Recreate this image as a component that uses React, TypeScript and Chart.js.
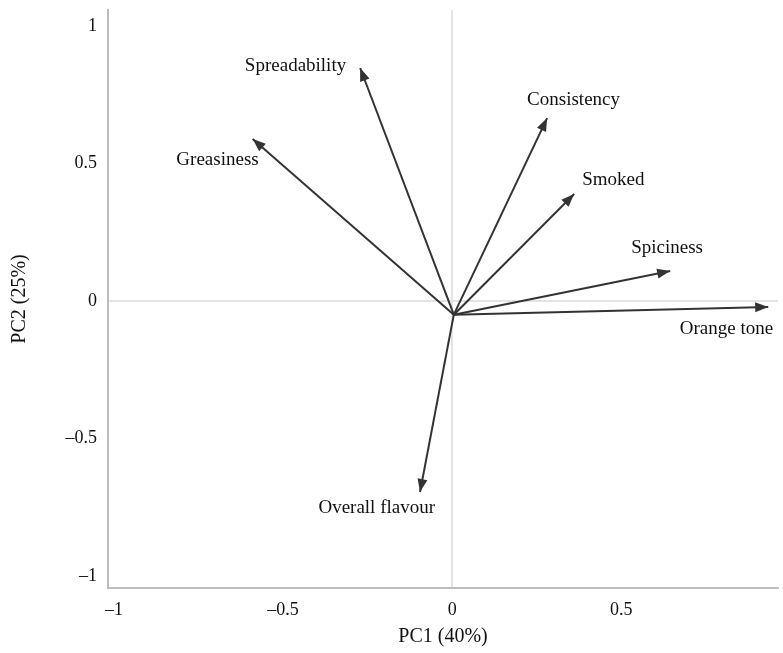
import React, { useEffect, useRef } from "react";
import { Chart, registerables } from "chart.js";

Chart.register(...registerables);

// ---- data ----
const variables = [
  "Spreadability",
  "Greasiness",
  "Consistency",
  "Smoked",
  "Spiciness",
  "Orange tone",
  "Overall flavour",
];
const pc1Loadings = [-0.272, -0.59, 0.281, 0.361, 0.645, 0.935, -0.095];
const pc2Loadings = [0.847, 0.589, 0.665, 0.389, 0.109, -0.022, -0.695];
const originPoint = { x: 0.005, y: -0.05 };
const xTicks = [-1, -0.5, 0, 0.5];
const yTicks = [-1, -0.5, 0, 0.5, 1];
const xTitle = "PC1 (40%)";
const yTitle = "PC2 (25%)";

// ---- label placement (pixel offsets from arrow tip) ----
const labelStyle: { dx: number; dy: number; align: CanvasTextAlign }[] = [
  { dx: -14, dy: -2, align: "right" },
  { dx: 6, dy: 21, align: "right" },
  { dx: -20, dy: -18, align: "left" },
  { dx: 8, dy: -14, align: "left" },
  { dx: -39, dy: -23, align: "left" },
  { dx: 5, dy: 22, align: "right" },
  { dx: 15, dy: 16, align: "right" },
];

const FONT = "'Liberation Serif', 'DejaVu Serif', serif";
const ARROW_COLOR = "#333333";

const arrowPlugin = {
  id: "arrowHeads",
  afterDatasetsDraw(chart: any) {
    const { ctx, scales } = chart;
    const xs = scales.x;
    const ys = scales.y;
    ctx.save();
    variables.forEach((name, i) => {
      const x0 = xs.getPixelForValue(originPoint.x);
      const y0 = ys.getPixelForValue(originPoint.y);
      const x1 = xs.getPixelForValue(pc1Loadings[i]);
      const y1 = ys.getPixelForValue(pc2Loadings[i]);
      const ang = Math.atan2(y1 - y0, x1 - x0);
      const len = 13;
      const half = 5;
      ctx.fillStyle = ARROW_COLOR;
      ctx.beginPath();
      ctx.moveTo(x1, y1);
      ctx.lineTo(
        x1 - len * Math.cos(ang) + half * Math.sin(ang),
        y1 - len * Math.sin(ang) - half * Math.cos(ang)
      );
      ctx.lineTo(
        x1 - len * Math.cos(ang) - half * Math.sin(ang),
        y1 - len * Math.sin(ang) + half * Math.cos(ang)
      );
      ctx.closePath();
      ctx.fill();

      const st = labelStyle[i];
      ctx.fillStyle = "#111111";
      ctx.font = `19px ${FONT}`;
      ctx.textAlign = st.align;
      ctx.textBaseline = "middle";
      ctx.fillText(name, x1 + st.dx, y1 + st.dy);
    });
    ctx.restore();
  },
};

const fmt = (v: number) => {
  const s = String(Math.abs(v));
  return v < 0 ? "\u2013" + s : s;
};

export default function App() {
  const canvasRef = useRef<HTMLCanvasElement | null>(null);

  useEffect(() => {
    if (!canvasRef.current) return;
    const datasets = variables.map((name, i) => ({
      label: name,
      data: [
        { x: originPoint.x, y: originPoint.y },
        { x: pc1Loadings[i], y: pc2Loadings[i] },
      ],
      showLine: true,
      borderColor: ARROW_COLOR,
      borderWidth: 2,
      pointRadius: 0,
      fill: false,
    }));

    const chart = new Chart(canvasRef.current, {
      type: "scatter",
      data: { datasets },
      options: {
        animation: false,
        responsive: true,
        maintainAspectRatio: false,
        layout: { padding: { left: 8, right: 5, top: 10, bottom: 0 } },
        plugins: {
          legend: { display: false },
          tooltip: { enabled: false },
        },
        scales: {
          x: {
            type: "linear",
            min: -1.018,
            max: 0.964,
            afterBuildTicks: (scale: any) => {
              scale.ticks = xTicks.map((v) => ({ value: v }));
            },
            afterFit: (scale: any) => {
              scale.height = 65;
              scale.paddingLeft = 0;
              scale.paddingRight = 0;
            },
            grid: {
              drawTicks: false,
              color: (c: any) => (c.tick && c.tick.value === 0 ? "#e4e4e4" : "rgba(0,0,0,0)"),
              lineWidth: 2,
            },
            border: { display: true, color: "#bdbdbd", width: 2 },
            ticks: {
              padding: 11,
              color: "#111",
              font: { family: FONT, size: 18 },
              callback: (v: any) => fmt(Number(v)),
            },
            title: {
              display: true,
              text: xTitle,
              color: "#111",
              font: { family: FONT, size: 20 },
              padding: { top: 0, bottom: 4 },
            },
          },
          y: {
            type: "linear",
            min: -1.044,
            max: 1.058,
            afterBuildTicks: (scale: any) => {
              scale.ticks = yTicks.map((v) => ({ value: v }));
            },
            afterFit: (scale: any) => {
              scale.width = 100;
              scale.paddingTop = 0;
              scale.paddingBottom = 0;
            },
            grid: {
              drawTicks: false,
              color: (c: any) => (c.tick && c.tick.value === 0 ? "#e4e4e4" : "rgba(0,0,0,0)"),
              lineWidth: 2,
            },
            border: { display: true, color: "#bdbdbd", width: 2 },
            ticks: {
              padding: 11,
              color: "#111",
              font: { family: FONT, size: 18 },
              callback: (v: any) => fmt(Number(v)),
            },
            title: {
              display: true,
              text: yTitle,
              color: "#111",
              font: { family: FONT, size: 20 },
              padding: { top: 0, bottom: 0 },
            },
          },
        },
      },
      plugins: [arrowPlugin],
    });
    return () => chart.destroy();
  }, []);

  return (
    <div style={{ position: "fixed", left: 0, top: 0, width: 783, height: 653, background: "#fff" }}>
      <canvas ref={canvasRef} />
    </div>
  );
}
